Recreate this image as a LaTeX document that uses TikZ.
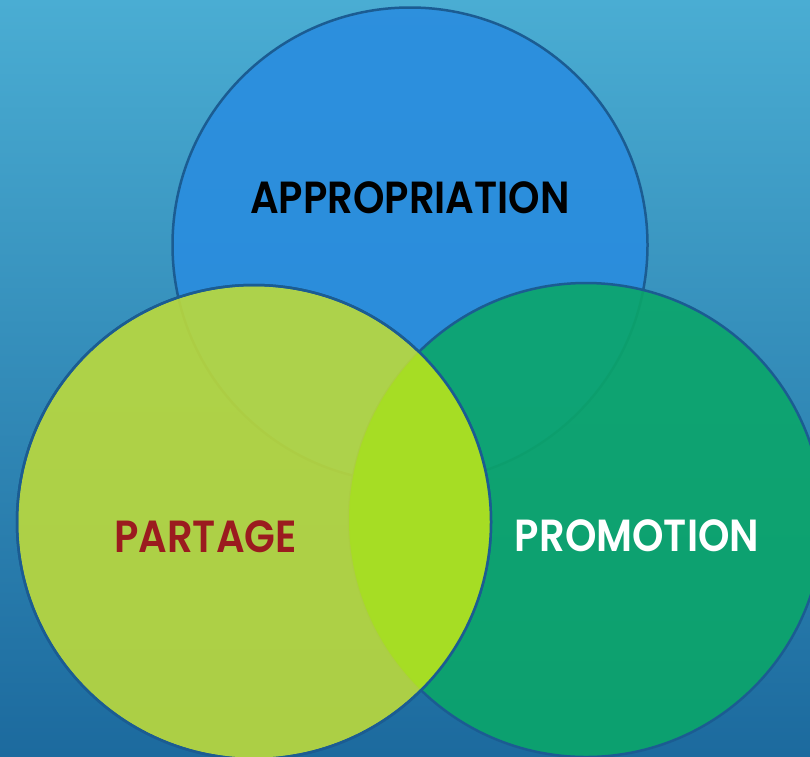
\documentclass[tikz,border=0pt]{standalone}
\usepackage{fontspec}
\setmainfont{Poppins}
\newfontfamily\wordfont{Poppins}[UprightFont=* SemiBold]

\definecolor{bgtop}{HTML}{4AADD3}
\definecolor{bgbot}{HTML}{1C6A9E}
\definecolor{rim}{HTML}{1B5C92}
\definecolor{appblue}{HTML}{2A8DDF}
\definecolor{promgreen}{HTML}{0BA66A}
\definecolor{partyellow}{HTML}{BCDA3C}
\definecolor{midlime}{HTML}{A6DE22}
\definecolor{partred}{HTML}{9B1B1F}

\tikzset{
  disc/.style={draw=rim, line width=2.5pt, fill opacity=0.9},
  word/.style={font=\wordfont\fontsize{45}{45}\selectfont, inner sep=0pt}
}

\begin{document}
\begin{tikzpicture}[x=1pt,y=-1pt]
	\useasboundingbox (0,0) rectangle (810,756);
	\shade[top color=bgtop, bottom color=bgbot] (0,0) rectangle (810,756);
	% the three circles
	\coordinate (ctop) at (410,245);
	\coordinate (cright) at (586,520);
	\coordinate (cleft) at (254,522);
	\draw[disc, fill=appblue] (ctop) circle (237.5pt);
	\draw[disc, fill=promgreen] (cright) circle (237pt);
	\draw[disc, fill=partyellow] (cleft) circle (237pt);
	% lime overlap
	\begin{scope}
		\clip (cright) circle (237pt);
		\fill[midlime, fill opacity=0.92] (cleft) circle (237pt);
	\end{scope}
	\draw[rim, line width=2.5pt] (cleft) circle (237pt);
	% labels
	\node[word, text=black] (app) at (410,198) {\scalebox{0.89}[1]{APPROPRIATION}};
	\node[word, text=partred] (part) at (205.5,537) {\scalebox{0.89}[1]{PARTAGE}};
	\node[word, text=white] (prom) at (637,535.5) {\scalebox{0.89}[1]{PROMOTION}};
\end{tikzpicture}
\end{document}
